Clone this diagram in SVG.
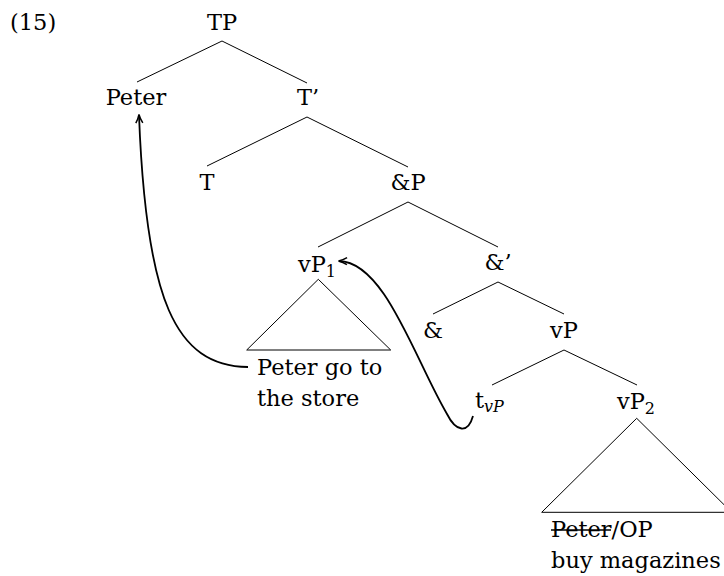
<svg xmlns="http://www.w3.org/2000/svg" width="724" height="576" viewBox="0 0 724 576">
<style>
text{font-family:"DejaVu Serif","Liberation Serif",serif;font-size:22.5px;fill:#000}
.m{text-anchor:middle}
.sub{font-size:16px}
.it{font-style:italic}
.e{stroke:#000;stroke-width:1;fill:none}
.tri{stroke:#000;stroke-width:1;fill:none}
.mv{stroke:#000;stroke-width:1.8;fill:none;marker-end:url(#ah)}
</style>
<defs>
<marker id="ah" viewBox="0 0 10 10" refX="9" refY="5" markerWidth="10" markerHeight="10" markerUnits="userSpaceOnUse" orient="auto">
<path d="M1,1.5 Q5,4 9.5,5 Q5,6 1,8.5" fill="none" stroke="#000" stroke-width="1.5"/>
</marker>
</defs>
<rect width="724" height="576" fill="#fff"/>
<text x="10" y="30">(15)</text>
<g id="connectors">
<line class="e" x1="222" y1="41" x2="137" y2="82"/>
<line class="e" x1="222" y1="41" x2="307" y2="83"/>
<line class="e" x1="307" y1="117" x2="207" y2="166"/>
<line class="e" x1="307" y1="117" x2="408" y2="167"/>
<line class="e" x1="408" y1="202" x2="318" y2="247"/>
<line class="e" x1="408" y1="202" x2="498" y2="247"/>
<line class="e" x1="498" y1="282" x2="433" y2="314"/>
<line class="e" x1="498" y1="282" x2="564" y2="314"/>
<line class="e" x1="564" y1="350" x2="492" y2="385"/>
<line class="e" x1="564" y1="350" x2="637" y2="385"/>
<path class="mv" d="M248,367 C175,366 146,300 139,115"/>
<path class="mv" d="M473,416 C468,434 456,432 447,414 C415,360 385,262 339,261"/>
</g>
<g id="TP"><text class="m" x="222" y="30">TP</text></g>
<g id="Peter"><text class="m" x="136" y="105">Peter</text></g>
<g id="Tbar"><text class="m" x="308" y="105">T’</text></g>
<g id="T"><text class="m" x="207" y="190">T</text></g>
<g id="AndP"><text class="m" x="408" y="190">&amp;P</text></g>
<g id="vP1"><text x="298" y="272">vP<tspan class="sub" dy="5">1</tspan></text>
<polygon class="tri" points="318.3,279.3 246.7,350 390.7,350"/>
<text x="257" y="375">Peter go to</text>
<text x="257" y="406">the store</text>
</g>
<g id="AndBar"><text class="m" x="498" y="270">&amp;’</text></g>
<g id="And"><text class="m" x="433" y="338">&amp;</text></g>
<g id="vP"><text class="m" x="564" y="338">vP</text></g>
<g id="tvP"><text x="475" y="408">t<tspan class="sub it" dy="4">vP</tspan></text></g>
<g id="vP2"><text x="617" y="409">vP<tspan class="sub" dy="5">2</tspan></text>
<polygon class="tri" points="636.7,418.3 541.7,512.3 731.7,512.3"/>
<text x="551" y="537">Peter/OP</text>
<line x1="551" y1="530" x2="611" y2="530" stroke="#000" stroke-width="1.3"/>
<text x="551" y="568">buy magazines</text>
</g>
</svg>
